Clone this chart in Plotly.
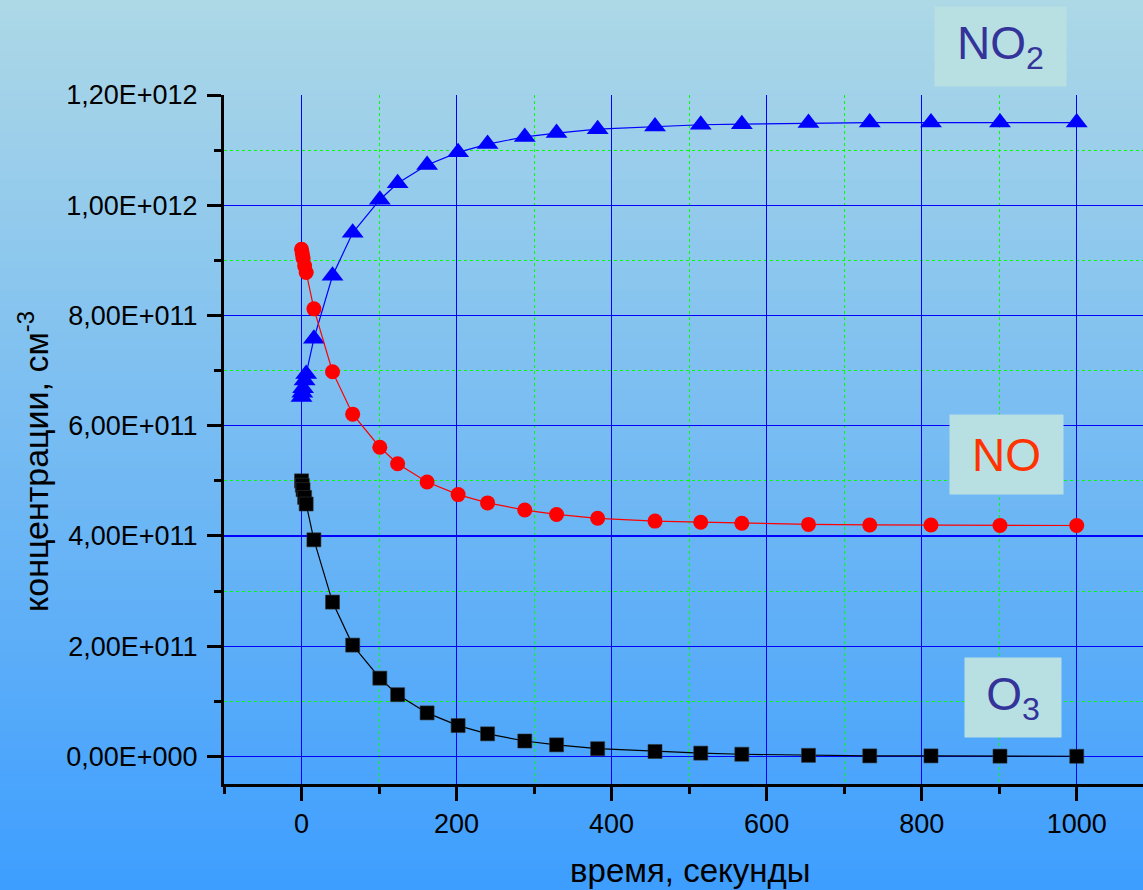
import plotly.graph_objects as go

# ---------------- data ----------------
time_s = [0, 1, 2, 4, 6, 16, 40, 66, 101, 124, 162, 202, 240, 288, 329, 382,
          456, 515, 568, 654, 733, 812, 901, 1000]

no2 = [6.52e11, 6.60e11, 6.68e11, 6.82e11, 6.94e11, 7.58e11, 8.72e11, 9.50e11,
       1.010e12, 1.040e12, 1.073e12, 1.096e12, 1.111e12, 1.124e12, 1.131e12,
       1.138e12, 1.143e12, 1.146e12, 1.147e12, 1.149e12, 1.150e12, 1.150e12,
       1.150e12, 1.150e12]

no = [9.20e11, 9.12e11, 9.04e11, 8.90e11, 8.78e11, 8.12e11, 6.98e11, 6.21e11,
      5.61e11, 5.31e11, 4.98e11, 4.75e11, 4.60e11, 4.47e11, 4.39e11, 4.32e11,
      4.27e11, 4.25e11, 4.23e11, 4.21e11, 4.20e11, 4.20e11, 4.19e11, 4.19e11]

o3 = [5.00e11, 4.92e11, 4.84e11, 4.70e11, 4.58e11, 3.93e11, 2.80e11, 2.02e11,
      1.42e11, 1.12e11, 0.79e11, 0.56e11, 0.41e11, 0.28e11, 0.21e11, 0.14e11,
      0.09e11, 0.06e11, 0.04e11, 0.02e11, 0.01e11, 0.01e11, 0.005e11, 0.003e11]

y_tickvals = [0, 2e11, 4e11, 6e11, 8e11, 1.0e12, 1.2e12]
y_ticktext = ["0,00E+000", "2,00E+011", "4,00E+011", "6,00E+011",
              "8,00E+011", "1,00E+012", "1,20E+012"]
x_tickvals = [0, 200, 400, 600, 800, 1000]
x_ticktext = ["0", "200", "400", "600", "800", "1000"]

x_title = "время, секунды"
y_title = "концентрации, см<sup>-3</sup>"

# ---------------- layout geometry ----------------
W, H = 1143, 890
L, T, R, B = 224, 95, 0, 106
PW, PH = W - L - R, H - T - B


def px(xp):
    return (xp - L) / PW


def py(yp):
    return (H - B - yp) / PH


FONT = "Liberation Sans, Arial, sans-serif"

fig = go.Figure()

fig.add_trace(go.Scatter(
    x=time_s, y=no2, mode="lines+markers", name="NO2",
    line=dict(color="#0000FF", width=1.2),
    marker=dict(symbol="triangle-up", size=19, color="#0000FF",
                line=dict(width=0))))
fig.add_trace(go.Scatter(
    x=time_s, y=no, mode="lines+markers", name="NO",
    line=dict(color="#FF0000", width=1.2),
    marker=dict(symbol="circle", size=15, color="#FF0000",
                line=dict(width=0))))
fig.add_trace(go.Scatter(
    x=time_s, y=o3, mode="lines+markers", name="O3",
    line=dict(color="#000000", width=1.2),
    marker=dict(symbol="square", size=14, color="#000000",
                line=dict(width=0.6, color="#333333"))))

# gradient background via stripes
shapes = []
top = (173, 216, 230)
bot = (62, 158, 255)
n = 89
for i in range(n):
    f = i / (n - 1)
    c = tuple(round(top[k] + (bot[k] - top[k]) * f) for k in range(3))
    y0p = i * H / n
    y1p = (i + 1) * H / n + 0.6
    shapes.append(dict(type="rect", xref="paper", yref="paper",
                       x0=px(0), x1=px(W), y0=py(y1p), y1=py(y0p),
                       fillcolor="rgb(%d,%d,%d)" % c, line=dict(width=0),
                       layer="below"))

annotations = [
    dict(text=x_title, xref="paper", yref="paper", x=px(690), y=py(870),
         xanchor="center", yanchor="middle", showarrow=False,
         font=dict(family=FONT, size=33, color="black")),
    dict(text=y_title, xref="paper", yref="paper", x=px(33), y=py(462),
         xanchor="center", yanchor="middle", showarrow=False, textangle=-90,
         font=dict(family=FONT, size=34, color="black")),
    dict(text="NO<sub>2</sub>", xref="paper", yref="paper",
         x=px(1000.5), y=py(46.5), xanchor="center", yanchor="middle",
         showarrow=False, width=129, height=77, bgcolor="#B8E0E3",
         font=dict(family=FONT, size=46, color="#333399")),
    dict(text="NO", xref="paper", yref="paper",
         x=px(1006.5), y=py(454.5), xanchor="center", yanchor="middle",
         showarrow=False, width=111, height=77, bgcolor="#B8E0E3",
         font=dict(family=FONT, size=46, color="#FF3300")),
    dict(text="O<sub>3</sub>", xref="paper", yref="paper",
         x=px(1013), y=py(697.5), xanchor="center", yanchor="middle",
         showarrow=False, width=94, height=77, bgcolor="#B8E0E3",
         font=dict(family=FONT, size=46, color="#333399")),
]

fig.update_layout(
    width=W, height=H,
    margin=dict(l=L, r=R, t=T, b=B, pad=0),
    paper_bgcolor="rgb(173,216,230)",
    plot_bgcolor="rgba(0,0,0,0)",
    showlegend=False,
    hovermode=False,
    shapes=shapes,
    annotations=annotations,
    font=dict(family=FONT, size=27, color="black"),
    xaxis=dict(
        range=[-100, 1085.5],
        tickmode="array", tickvals=x_tickvals, ticktext=x_ticktext,
        ticks="outside", ticklen=14, tickwidth=3, tickcolor="black",
        showline=True, linecolor="black", linewidth=3,
        showgrid=True, gridcolor="#0000FF", gridwidth=1.2,
        zeroline=False,
        tickfont=dict(family=FONT, size=27, color="black"),
        minor=dict(tickmode="linear", tick0=-100, dtick=200, ticks="outside",
                   ticklen=7, tickwidth=3, tickcolor="black",
                   showgrid=True, gridcolor="#00FF00", gridwidth=1,
                   griddash="dot"),
    ),
    yaxis=dict(
        range=[-5e10, 1.2e12],
        tickmode="array", tickvals=y_tickvals, ticktext=y_ticktext,
        ticks="outside", ticklen=14, tickwidth=3, tickcolor="black",
        showline=True, linecolor="black", linewidth=3,
        showgrid=True, gridcolor="#0000FF", gridwidth=1.2,
        zeroline=False,
        ticklabelstandoff=4,
        tickfont=dict(family=FONT, size=27, color="black"),
        minor=dict(tickmode="linear", tick0=1e11, dtick=2e11, ticks="outside",
                   ticklen=7, tickwidth=3, tickcolor="black",
                   showgrid=True, gridcolor="#00FF00", gridwidth=1,
                   griddash="dot"),
    ),
)

fig.write_html(
    "out.html",
    config={"displayModeBar": False, "staticPlot": True},
    post_script="document.body.style.margin='0';"
                "document.body.style.overflow='hidden';",
)
